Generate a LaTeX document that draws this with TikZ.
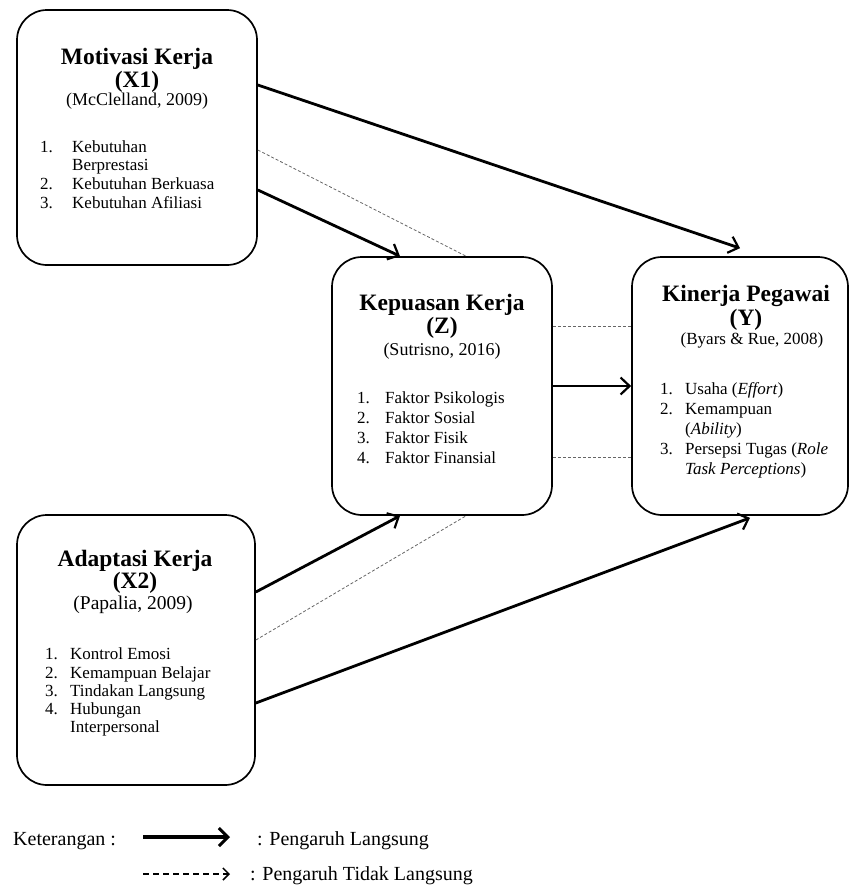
\documentclass[tikz,border=0pt]{standalone}
\usepackage{fontspec}
\setmainfont{Liberation Serif}
\usetikzlibrary{arrows.meta}
\begin{document}
\begin{tikzpicture}[x=1pt,y=-1pt,
 box/.style={draw, line width=1.7pt, rounded corners=30pt, inner sep=0},
 ttl/.style={anchor=mid, inner sep=0, font=\fontsize{23.5}{26}\selectfont\bfseries},
 cite/.style={anchor=mid, inner sep=0, font=\fontsize{18}{20}\selectfont},
 item/.style={anchor=mid west, inner sep=0, font=\fontsize{17}{19}\selectfont},
 legtxt/.style={anchor=mid west, inner sep=0, font=\fontsize{20}{22}\selectfont},
 direct/.style={line width=2.8pt, -{Straight Barb[length=9pt,width=17pt,line width=2.2pt]}},
 indirect/.style={line width=0.8pt, black!60, dash pattern=on 3pt off 2pt},
]
\useasboundingbox (0,0) rectangle (850,887);

% boxes
\node[box, minimum width=240pt, minimum height=255pt] (x1) at (137,137.5) {};
\node[box, minimum width=220pt, minimum height=258pt] (z) at (442,386) {};
\node[box, minimum width=216pt, minimum height=258pt] (y) at (740,386) {};
\node[box, minimum width=238pt, minimum height=270pt] (x2) at (136,650) {};

% X1 text
\node[ttl] (x1t1) at (137,62) {Motivasi Kerja};
\node[ttl] (x1t2) at (137,85) {(X1)};
\node[cite] (x1c) at (137,103) {(McClelland, 2009)};
\node[item] (x1n1) at (40,150) {1.};
\node[item] (x1i1) at (72,150) {Kebutuhan};
\node[item] (x1i1b) at (72,168) {Berprestasi};
\node[item] (x1n2) at (40,187) {2.};
\node[item] (x1i2) at (72,187) {Kebutuhan Berkuasa};
\node[item] (x1n3) at (40,206) {3.};
\node[item] (x1i3) at (72,206) {Kebutuhan Afiliasi};

% Z text
\node[ttl] (zt1) at (442,308) {Kepuasan Kerja};
\node[ttl] (zt2) at (442,331) {(Z)};
\node[cite] (zc) at (442,353) {(Sutrisno, 2016)};
\node[item] (zn1) at (357,401) {1.};
\node[item] (zi1) at (385,401) {Faktor Psikologis};
\node[item] (zn2) at (357,421) {2.};
\node[item] (zi2) at (385,421) {Faktor Sosial};
\node[item] (zn3) at (357,441) {3.};
\node[item] (zi3) at (385,441) {Faktor Fisik};
\node[item] (zn4) at (357,461) {4.};
\node[item] (zi4) at (385,461) {Faktor Finansial};

% Y text
\node[ttl] (yt1) at (746,299) {Kinerja Pegawai};
\node[ttl] (yt2) at (746,323) {(Y)};
\node[cite, font=\fontsize{17}{19}\selectfont] (yc) at (752,342) {(Byars \& Rue, 2008)};
\node[item] (yn1) at (660,392) {1.};
\node[item] (yi1) at (685,392) {Usaha (\textit{Effort})};
\node[item] (yn2) at (660,412) {2.};
\node[item] (yi2) at (685,412) {Kemampuan};
\node[item] (yi2b) at (685,432) {(\textit{Ability})};
\node[item] (yn3) at (660,452) {3.};
\node[item] (yi3) at (685,452) {Persepsi Tugas (\textit{Role}};
\node[item] (yi3b) at (685,472) {\textit{Task Perceptions})};

% X2 text
\node[ttl] (x2t1) at (135,564) {Adaptasi Kerja};
\node[ttl] (x2t2) at (135,586) {(X2)};
\node[cite, font=\fontsize{19.5}{21}\selectfont] (x2c) at (133,607) {(Papalia, 2009)};
\node[item] (x2n1) at (45,657) {1.};
\node[item] (x2i1) at (70,657) {Kontrol Emosi};
\node[item] (x2n2) at (45,676) {2.};
\node[item] (x2i2) at (70,676) {Kemampuan Belajar};
\node[item] (x2n3) at (45,694) {3.};
\node[item] (x2i3) at (70,694) {Tindakan Langsung};
\node[item] (x2n4) at (45,712) {4.};
\node[item] (x2i4) at (70,712) {Hubungan};
\node[item] (x2i4b) at (70,730) {Interpersonal};

% connectors
\draw[direct] ([yshift=52.5pt]x1.east) -- ([yshift=8pt]y.north);
\draw[direct] ([yshift=-52.5pt]x1.east) -- ([xshift=-42pt]z.north);
\draw[indirect] ([yshift=-12.5pt]x1.east) -- ([xshift=24pt]z.north);
\draw[indirect] ([yshift=60pt]z.east) -- ([yshift=60pt]y.west);
\draw[direct] (z.east) -- (y.west);
\draw[indirect] ([yshift=-71pt]z.east) -- ([yshift=-71pt]y.west);
\draw[direct] ([yshift=58pt]x2.east) -- ([xshift=-42pt]z.south);
\draw[indirect] ([yshift=10pt]x2.east) -- ([xshift=24pt]z.south);
\draw[direct] ([yshift=-53pt]x2.east) -- ([xshift=10pt,yshift=-2pt]y.south);

% legend
\node[legtxt] (ket) at (13,843) {Keterangan :};
\coordinate (ls1) at (143,837);
\coordinate (le1) at (230,837);
\draw[line width=4pt, -{Straight Barb[length=9pt,width=18pt,line width=3pt]}] (ls1) -- (le1);
\node[legtxt] (pl) at (257,843) {: Pengaruh Langsung};
\coordinate (ls2) at (143,874);
\coordinate (le2) at (230,874);
\draw[line width=1.5pt, dash pattern=on 6pt off 4pt, -{Straight Barb[length=6pt,width=12pt,line width=1.5pt]}] (ls2) -- (le2);
\node[legtxt] (ptl) at (250,878) {: Pengaruh Tidak Langsung};
\end{tikzpicture}
\end{document}
